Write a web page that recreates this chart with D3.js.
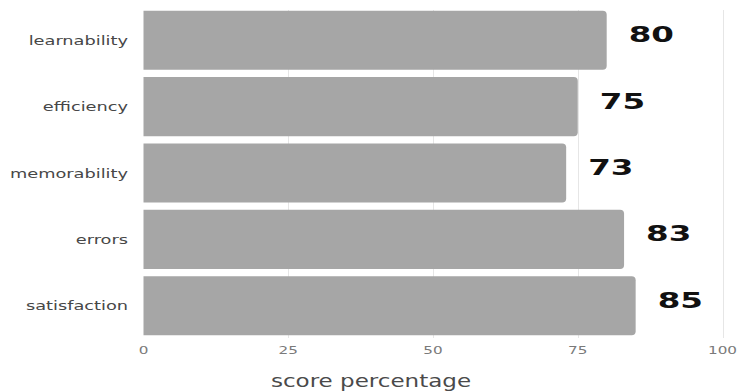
<!DOCTYPE html>
<html>
<head>
<meta charset="utf-8">
<script src="https://cdn.jsdelivr.net/npm/d3@7"></script>
<style>
  body { margin: 0; background: #fff; }
  svg { display: block; font-family: "DejaVu Sans", sans-serif; }
  .cat-label { fill: #474747; font-size: 12.5px; }
  .tick-label { fill: #7a7a7a; font-size: 10.5px; }
  .axis-title { fill: #4a4a4a; font-size: 18px; }
  .value-label { fill: #111; font-size: 21px; font-weight: bold; }
  .grid line { stroke: #e6e6e6; stroke-width: 1; }
</style>
</head>
<body>
<svg id="chart" width="737" height="391"></svg>
<script>
// data
const categories = ['learnability', 'efficiency', 'memorability', 'errors', 'satisfaction'];
const scores = [80, 75, 73, 83, 85];
const xTicks = [0, 25, 50, 75, 100];
const xTitle = 'score percentage';

/**
 * Horizontal bar chart
 */
class BarChart {

    constructor(_config, _data) {
        this.config = {
            parentElement: _config.parentElement,
            containerWidth: _config.containerWidth || 737,
            containerHeight: _config.containerHeight || 391
        }
        this.data = _data;
        this.initVis();
    }

    initVis() {
        let vis = this;

        // scales
        vis.xScale = d3.scaleLinear()
            .domain([0, 100])
            .range([143.5, 722.5]);

        vis.yScale = d3.scaleBand()
            .domain(categories)
            .range([7, 339])
            .paddingInner(0.11)
            .paddingOuter(0.055);

        vis.svg = d3.select(vis.config.parentElement);

        // light vertical gridlines (drawn under bars)
        vis.svg.append('g')
            .attr('class', 'grid')
            .selectAll('line')
            .data(xTicks.filter(d => d > 0))
            .join('line')
            .attr('x1', d => Math.round(vis.xScale(d)) + 0.5)
            .attr('x2', d => Math.round(vis.xScale(d)) + 0.5)
            .attr('y1', 10)
            .attr('y2', 338);

        // tick labels, the text is wide so stretch it a bit
        vis.svg.append('g')
            .selectAll('g')
            .data(xTicks)
            .join('g')
            .attr('transform', d => `translate(${vis.xScale(d)},354) scale(1.45,1)`)
            .append('text')
            .attr('class', 'tick-label')
            .attr('text-anchor', 'middle')
            .text(d => d);

        // x axis title
        vis.svg.append('g')
            .attr('transform', 'translate(371,387) scale(1.28,1)')
            .append('text')
            .attr('class', 'axis-title')
            .attr('text-anchor', 'middle')
            .text(xTitle);

        vis.updateVis();
    }

    updateVis() {
        let vis = this;
        vis.xValue = d => d.score;
        vis.yValue = d => d.category;
        vis.renderVis();
    }

    renderVis() {
        let vis = this;
        const r = 4;

        // bars: square on the left, rounded on the right
        vis.svg.append('g')
            .selectAll('path')
            .data(vis.data)
            .join('path')
            .attr('fill', '#a6a6a6')
            .attr('d', d => {
                const x0 = vis.xScale(0), x1 = vis.xScale(vis.xValue(d));
                const y0 = vis.yScale(vis.yValue(d)), y1 = y0 + vis.yScale.bandwidth();
                return `M${x0},${y0}H${x1 - r}Q${x1},${y0} ${x1},${y0 + r}V${y1 - r}Q${x1},${y1} ${x1 - r},${y1}H${x0}Z`;
            });

        // category labels
        vis.svg.append('g')
            .selectAll('g')
            .data(vis.data)
            .join('g')
            .attr('transform', d => `translate(128,${vis.yScale(vis.yValue(d)) + vis.yScale.bandwidth() / 2 + 4.5}) scale(1.42,1)`)
            .append('text')
            .attr('class', 'cat-label')
            .attr('text-anchor', 'end')
            .text(d => d.category);

        // value labels
        vis.svg.append('g')
            .selectAll('g')
            .data(vis.data)
            .join('g')
            .attr('transform', d => `translate(${vis.xScale(vis.xValue(d)) + 22},${vis.yScale(vis.yValue(d)) + vis.yScale.bandwidth() / 2 + 2}) scale(1.55,1)`)
            .append('text')
            .attr('class', 'value-label')
            .text(d => d.score);
    }
}

const data = categories.map((c, i) => ({ category: c, score: scores[i] }));
new BarChart({ parentElement: '#chart' }, data);
</script>
</body>
</html>
